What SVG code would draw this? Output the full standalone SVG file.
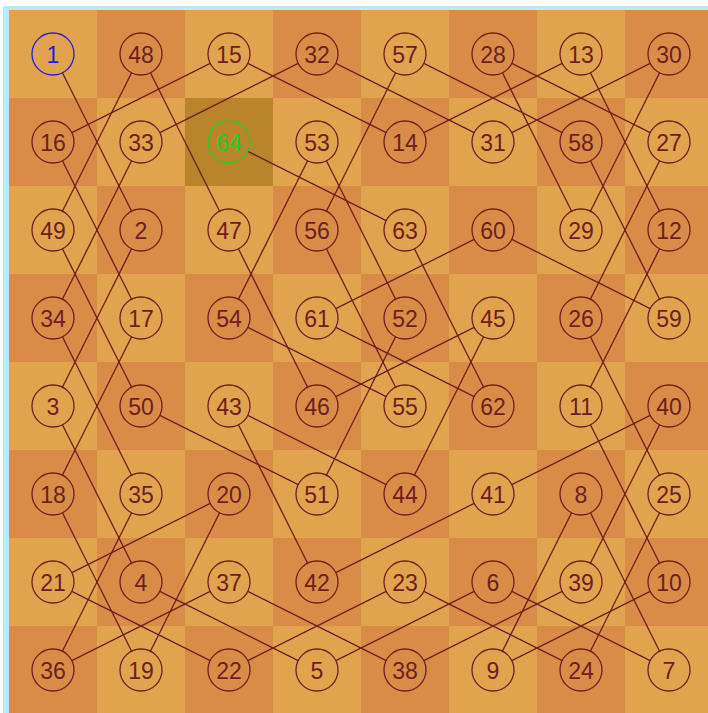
<svg xmlns="http://www.w3.org/2000/svg" width="708" height="713" viewBox="0 0 708 713">
<defs>
<style>
.l{fill:#E2A34F}
.d{fill:#D98C47}
.h{fill:#B9842B}
.c{fill:none;stroke:#6E1E1E;stroke-width:1.3}
.t{font-family:"Liberation Sans",Arial,sans-serif;font-size:23px;fill:#6E1E1E;text-anchor:middle}
#connectors line{stroke:#6E1E1E;stroke-width:1.3;fill:none}
</style>
<pattern id="board" x="9" y="10" width="176" height="176" patternUnits="userSpaceOnUse">
<rect x="0" y="0" width="88" height="88" fill="#E2A34F"/>
<rect x="88" y="0" width="88" height="88" fill="#D98C47"/>
<rect x="0" y="88" width="88" height="88" fill="#D98C47"/>
<rect x="88" y="88" width="88" height="88" fill="#E2A34F"/>
</pattern>
</defs>
<rect x="0" y="0" width="708" height="713" fill="#FFFFFF"/>
<rect x="3" y="6" width="705" height="707" fill="#B8EAF8"/>
<rect x="9" y="10" width="699" height="703" fill="url(#board)"/>
<rect x="185" y="98" width="88" height="88" class="h"/>
<g id="connectors">
<line x1="62.4" y1="72.8" x2="131.6" y2="211.2"/>
<line x1="131.6" y1="248.8" x2="62.4" y2="387.2"/>
<line x1="62.4" y1="424.8" x2="131.6" y2="563.2"/>
<line x1="159.8" y1="591.4" x2="298.2" y2="660.6"/>
<line x1="335.8" y1="660.6" x2="474.2" y2="591.4"/>
<line x1="511.8" y1="591.4" x2="650.2" y2="660.6"/>
<line x1="659.6" y1="651.2" x2="590.4" y2="512.8"/>
<line x1="571.6" y1="512.8" x2="502.4" y2="651.2"/>
<line x1="511.8" y1="660.6" x2="650.2" y2="591.4"/>
<line x1="659.6" y1="563.2" x2="590.4" y2="424.8"/>
<line x1="590.4" y1="387.2" x2="659.6" y2="248.8"/>
<line x1="659.6" y1="211.2" x2="590.4" y2="72.8"/>
<line x1="562.2" y1="63.4" x2="423.8" y2="132.6"/>
<line x1="386.2" y1="132.6" x2="247.8" y2="63.4"/>
<line x1="210.2" y1="63.4" x2="71.8" y2="132.6"/>
<line x1="62.4" y1="160.8" x2="131.6" y2="299.2"/>
<line x1="131.6" y1="336.8" x2="62.4" y2="475.2"/>
<line x1="62.4" y1="512.8" x2="131.6" y2="651.2"/>
<line x1="150.4" y1="651.2" x2="219.6" y2="512.8"/>
<line x1="210.2" y1="503.4" x2="71.8" y2="572.6"/>
<line x1="71.8" y1="591.4" x2="210.2" y2="660.6"/>
<line x1="247.8" y1="660.6" x2="386.2" y2="591.4"/>
<line x1="423.8" y1="591.4" x2="562.2" y2="660.6"/>
<line x1="590.4" y1="651.2" x2="659.6" y2="512.8"/>
<line x1="659.6" y1="475.2" x2="590.4" y2="336.8"/>
<line x1="590.4" y1="299.2" x2="659.6" y2="160.8"/>
<line x1="650.2" y1="132.6" x2="511.8" y2="63.4"/>
<line x1="502.4" y1="72.8" x2="571.6" y2="211.2"/>
<line x1="590.4" y1="211.2" x2="659.6" y2="72.8"/>
<line x1="650.2" y1="63.4" x2="511.8" y2="132.6"/>
<line x1="474.2" y1="132.6" x2="335.8" y2="63.4"/>
<line x1="298.2" y1="63.4" x2="159.8" y2="132.6"/>
<line x1="131.6" y1="160.8" x2="62.4" y2="299.2"/>
<line x1="62.4" y1="336.8" x2="131.6" y2="475.2"/>
<line x1="131.6" y1="512.8" x2="62.4" y2="651.2"/>
<line x1="71.8" y1="660.6" x2="210.2" y2="591.4"/>
<line x1="247.8" y1="591.4" x2="386.2" y2="660.6"/>
<line x1="423.8" y1="660.6" x2="562.2" y2="591.4"/>
<line x1="590.4" y1="563.2" x2="659.6" y2="424.8"/>
<line x1="650.2" y1="415.4" x2="511.8" y2="484.6"/>
<line x1="474.2" y1="503.4" x2="335.8" y2="572.6"/>
<line x1="307.6" y1="563.2" x2="238.4" y2="424.8"/>
<line x1="247.8" y1="415.4" x2="386.2" y2="484.6"/>
<line x1="414.4" y1="475.2" x2="483.6" y2="336.8"/>
<line x1="474.2" y1="327.4" x2="335.8" y2="396.6"/>
<line x1="307.6" y1="387.2" x2="238.4" y2="248.8"/>
<line x1="219.6" y1="211.2" x2="150.4" y2="72.8"/>
<line x1="131.6" y1="72.8" x2="62.4" y2="211.2"/>
<line x1="62.4" y1="248.8" x2="131.6" y2="387.2"/>
<line x1="159.8" y1="415.4" x2="298.2" y2="484.6"/>
<line x1="326.4" y1="475.2" x2="395.6" y2="336.8"/>
<line x1="395.6" y1="299.2" x2="326.4" y2="160.8"/>
<line x1="307.6" y1="160.8" x2="238.4" y2="299.2"/>
<line x1="247.8" y1="327.4" x2="386.2" y2="396.6"/>
<line x1="395.6" y1="387.2" x2="326.4" y2="248.8"/>
<line x1="326.4" y1="211.2" x2="395.6" y2="72.8"/>
<line x1="423.8" y1="63.4" x2="562.2" y2="132.6"/>
<line x1="590.4" y1="160.8" x2="659.6" y2="299.2"/>
<line x1="650.2" y1="308.6" x2="511.8" y2="239.4"/>
<line x1="474.2" y1="239.4" x2="335.8" y2="308.6"/>
<line x1="335.8" y1="327.4" x2="474.2" y2="396.6"/>
<line x1="483.6" y1="387.2" x2="414.4" y2="248.8"/>
<line x1="386.2" y1="220.6" x2="247.8" y2="151.4"/>
</g>
<g id="n1"><circle class="c" cx="53" cy="54" r="21" style="stroke:#1E1EE6"/><text class="t" x="53" y="63" style="fill:#1E1EE6">1</text></g>
<g id="n48"><circle class="c" cx="141" cy="54" r="21"/><text class="t" x="141" y="63">48</text></g>
<g id="n15"><circle class="c" cx="229" cy="54" r="21"/><text class="t" x="229" y="63">15</text></g>
<g id="n32"><circle class="c" cx="317" cy="54" r="21"/><text class="t" x="317" y="63">32</text></g>
<g id="n57"><circle class="c" cx="405" cy="54" r="21"/><text class="t" x="405" y="63">57</text></g>
<g id="n28"><circle class="c" cx="493" cy="54" r="21"/><text class="t" x="493" y="63">28</text></g>
<g id="n13"><circle class="c" cx="581" cy="54" r="21"/><text class="t" x="581" y="63">13</text></g>
<g id="n30"><circle class="c" cx="669" cy="54" r="21"/><text class="t" x="669" y="63">30</text></g>
<g id="n16"><circle class="c" cx="53" cy="142" r="21"/><text class="t" x="53" y="151">16</text></g>
<g id="n33"><circle class="c" cx="141" cy="142" r="21"/><text class="t" x="141" y="151">33</text></g>
<g id="n64"><circle class="c" cx="229" cy="142" r="21" style="stroke:#22D022"/><text class="t" x="229" y="151" style="fill:#22D022">64</text></g>
<g id="n53"><circle class="c" cx="317" cy="142" r="21"/><text class="t" x="317" y="151">53</text></g>
<g id="n14"><circle class="c" cx="405" cy="142" r="21"/><text class="t" x="405" y="151">14</text></g>
<g id="n31"><circle class="c" cx="493" cy="142" r="21"/><text class="t" x="493" y="151">31</text></g>
<g id="n58"><circle class="c" cx="581" cy="142" r="21"/><text class="t" x="581" y="151">58</text></g>
<g id="n27"><circle class="c" cx="669" cy="142" r="21"/><text class="t" x="669" y="151">27</text></g>
<g id="n49"><circle class="c" cx="53" cy="230" r="21"/><text class="t" x="53" y="239">49</text></g>
<g id="n2"><circle class="c" cx="141" cy="230" r="21"/><text class="t" x="141" y="239">2</text></g>
<g id="n47"><circle class="c" cx="229" cy="230" r="21"/><text class="t" x="229" y="239">47</text></g>
<g id="n56"><circle class="c" cx="317" cy="230" r="21"/><text class="t" x="317" y="239">56</text></g>
<g id="n63"><circle class="c" cx="405" cy="230" r="21"/><text class="t" x="405" y="239">63</text></g>
<g id="n60"><circle class="c" cx="493" cy="230" r="21"/><text class="t" x="493" y="239">60</text></g>
<g id="n29"><circle class="c" cx="581" cy="230" r="21"/><text class="t" x="581" y="239">29</text></g>
<g id="n12"><circle class="c" cx="669" cy="230" r="21"/><text class="t" x="669" y="239">12</text></g>
<g id="n34"><circle class="c" cx="53" cy="318" r="21"/><text class="t" x="53" y="327">34</text></g>
<g id="n17"><circle class="c" cx="141" cy="318" r="21"/><text class="t" x="141" y="327">17</text></g>
<g id="n54"><circle class="c" cx="229" cy="318" r="21"/><text class="t" x="229" y="327">54</text></g>
<g id="n61"><circle class="c" cx="317" cy="318" r="21"/><text class="t" x="317" y="327">61</text></g>
<g id="n52"><circle class="c" cx="405" cy="318" r="21"/><text class="t" x="405" y="327">52</text></g>
<g id="n45"><circle class="c" cx="493" cy="318" r="21"/><text class="t" x="493" y="327">45</text></g>
<g id="n26"><circle class="c" cx="581" cy="318" r="21"/><text class="t" x="581" y="327">26</text></g>
<g id="n59"><circle class="c" cx="669" cy="318" r="21"/><text class="t" x="669" y="327">59</text></g>
<g id="n3"><circle class="c" cx="53" cy="406" r="21"/><text class="t" x="53" y="415">3</text></g>
<g id="n50"><circle class="c" cx="141" cy="406" r="21"/><text class="t" x="141" y="415">50</text></g>
<g id="n43"><circle class="c" cx="229" cy="406" r="21"/><text class="t" x="229" y="415">43</text></g>
<g id="n46"><circle class="c" cx="317" cy="406" r="21"/><text class="t" x="317" y="415">46</text></g>
<g id="n55"><circle class="c" cx="405" cy="406" r="21"/><text class="t" x="405" y="415">55</text></g>
<g id="n62"><circle class="c" cx="493" cy="406" r="21"/><text class="t" x="493" y="415">62</text></g>
<g id="n11"><circle class="c" cx="581" cy="406" r="21"/><text class="t" x="581" y="415">11</text></g>
<g id="n40"><circle class="c" cx="669" cy="406" r="21"/><text class="t" x="669" y="415">40</text></g>
<g id="n18"><circle class="c" cx="53" cy="494" r="21"/><text class="t" x="53" y="503">18</text></g>
<g id="n35"><circle class="c" cx="141" cy="494" r="21"/><text class="t" x="141" y="503">35</text></g>
<g id="n20"><circle class="c" cx="229" cy="494" r="21"/><text class="t" x="229" y="503">20</text></g>
<g id="n51"><circle class="c" cx="317" cy="494" r="21"/><text class="t" x="317" y="503">51</text></g>
<g id="n44"><circle class="c" cx="405" cy="494" r="21"/><text class="t" x="405" y="503">44</text></g>
<g id="n41"><circle class="c" cx="493" cy="494" r="21"/><text class="t" x="493" y="503">41</text></g>
<g id="n8"><circle class="c" cx="581" cy="494" r="21"/><text class="t" x="581" y="503">8</text></g>
<g id="n25"><circle class="c" cx="669" cy="494" r="21"/><text class="t" x="669" y="503">25</text></g>
<g id="n21"><circle class="c" cx="53" cy="582" r="21"/><text class="t" x="53" y="591">21</text></g>
<g id="n4"><circle class="c" cx="141" cy="582" r="21"/><text class="t" x="141" y="591">4</text></g>
<g id="n37"><circle class="c" cx="229" cy="582" r="21"/><text class="t" x="229" y="591">37</text></g>
<g id="n42"><circle class="c" cx="317" cy="582" r="21"/><text class="t" x="317" y="591">42</text></g>
<g id="n23"><circle class="c" cx="405" cy="582" r="21"/><text class="t" x="405" y="591">23</text></g>
<g id="n6"><circle class="c" cx="493" cy="582" r="21"/><text class="t" x="493" y="591">6</text></g>
<g id="n39"><circle class="c" cx="581" cy="582" r="21"/><text class="t" x="581" y="591">39</text></g>
<g id="n10"><circle class="c" cx="669" cy="582" r="21"/><text class="t" x="669" y="591">10</text></g>
<g id="n36"><circle class="c" cx="53" cy="670" r="21"/><text class="t" x="53" y="679">36</text></g>
<g id="n19"><circle class="c" cx="141" cy="670" r="21"/><text class="t" x="141" y="679">19</text></g>
<g id="n22"><circle class="c" cx="229" cy="670" r="21"/><text class="t" x="229" y="679">22</text></g>
<g id="n5"><circle class="c" cx="317" cy="670" r="21"/><text class="t" x="317" y="679">5</text></g>
<g id="n38"><circle class="c" cx="405" cy="670" r="21"/><text class="t" x="405" y="679">38</text></g>
<g id="n9"><circle class="c" cx="493" cy="670" r="21"/><text class="t" x="493" y="679">9</text></g>
<g id="n24"><circle class="c" cx="581" cy="670" r="21"/><text class="t" x="581" y="679">24</text></g>
<g id="n7"><circle class="c" cx="669" cy="670" r="21"/><text class="t" x="669" y="679">7</text></g>
</svg>
